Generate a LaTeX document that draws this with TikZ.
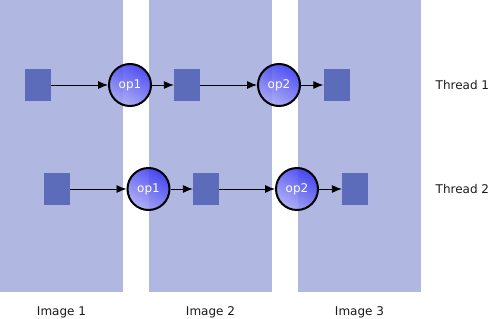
\documentclass[tikz,border=0pt]{standalone}
\usepackage{fontspec}
\setmainfont{DejaVu Sans}
\usetikzlibrary{arrows.meta}
\definecolor{colfill}{HTML}{B0B7E0}
\definecolor{sqfill}{HTML}{5C6BBA}
\definecolor{opdark}{HTML}{3838F2}
\definecolor{oplight}{HTML}{A5A5F4}
\definecolor{txt}{HTML}{1A1A1A}
\tikzset{
  imgcol/.style={fill=colfill, draw=none},
  datasq/.style={fill=sqfill, draw=none, minimum width=26pt, minimum height=32pt, inner sep=0pt},
  opnode/.style={circle, draw=black, line width=2pt, minimum size=42pt, inner sep=0pt,
    top color=opdark, bottom color=oplight, shading angle=-30, fill opacity=0.88,
    text=white, text opacity=1, font=\fontsize{12}{14}\selectfont},
  flow/.style={draw=black, line width=0.9pt, -{Latex[length=10pt,width=8pt]}},
  lbl/.style={text=txt, font=\fontsize{12}{14}\selectfont}
}
\begin{document}
\begin{tikzpicture}[x=1pt,y=-1pt]
\useasboundingbox (0,0) rectangle (488,319);
\fill[imgcol] (0,0) rectangle (123,292);
\fill[imgcol] (149,0) rectangle (272,292);
\fill[imgcol] (298,0) rectangle (421,292);
% thread 1
\node[datasq] (a1) at (38,85) {};
\node[opnode] (o11) at (130,85) {op1};
\node[datasq] (a2) at (187,85) {};
\node[opnode] (o12) at (279,85) {op2};
\node[datasq] (a3) at (336.5,85) {};
% thread 2
\node[datasq] (b1) at (57,189) {};
\node[opnode] (o21) at (148.5,189) {op1};
\node[datasq] (b2) at (206,189) {};
\node[opnode] (o22) at (297,189) {op2};
\node[datasq] (b3) at (355,189) {};
\draw[flow] (a1) -- (o11);
\draw[flow] (o11) -- (a2);
\draw[flow] (a2) -- (o12);
\draw[flow] (o12) -- (a3);
\draw[flow] (b1) -- (o21);
\draw[flow] (o21) -- (b2);
\draw[flow] (b2) -- (o22);
\draw[flow] (o22) -- (b3);
\node[lbl, anchor=west, inner sep=0pt] (t1) at (435.5,85) {Thread 1};
\node[lbl, anchor=west, inner sep=0pt] (t2) at (435.5,189) {Thread 2};
\node[lbl] (i1) at (61.5,312) {Image 1};
\node[lbl] (i2) at (210.5,312) {Image 2};
\node[lbl] (i3) at (359.5,312) {Image 3};
\end{tikzpicture}
\end{document}
